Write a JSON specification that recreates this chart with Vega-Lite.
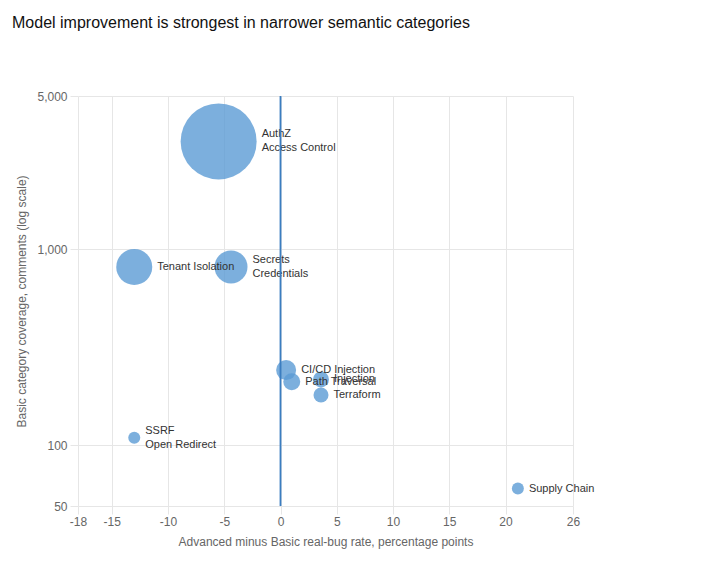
{
  "$schema": "https://vega.github.io/schema/vega-lite/v6.json",
  "width": 495,
  "height": 410,
  "autosize": {"type": "none"},
  "padding": {"left": 78, "top": 96, "right": 128, "bottom": 67},
  "background": "white",
  "title": {
    "text": "Model improvement is strongest in narrower semantic categories",
    "anchor": "start",
    "frame": "group",
    "font": "Liberation Sans",
    "fontSize": 16,
    "fontWeight": "normal",
    "color": "#111111",
    "baseline": "alphabetic",
    "offset": 0,
    "dx": -66,
    "dy": -46
  },
  "config": {
    "view": {"stroke": null},
    "axis": {
      "labelFont": "Liberation Sans",
      "labelFontSize": 12,
      "labelColor": "#666666",
      "labelFlush": false,
      "titleFont": "Liberation Sans",
      "titleFontSize": 12,
      "titleFontWeight": "normal",
      "titleColor": "#666666",
      "gridColor": "#e6e6e6",
      "tickColor": "#e6e6e6",
      "tickSize": 8,
      "domain": false
    }
  },
  "datasets": {
    "categories": [
      {"category": "AuthZ\nAccess Control", "delta": -5.5, "basic": 3100, "total": 5776},
      {"category": "Tenant Isolation", "delta": -13.0, "basic": 810, "total": 1296},
      {"category": "Secrets\nCredentials", "delta": -4.4, "basic": 810, "total": 1089},
      {"category": "CI/CD Injection", "delta": 0.5, "basic": 241, "total": 400},
      {"category": "Path Traversal", "delta": 1.0, "basic": 210, "total": 289},
      {"category": "Injection", "delta": 3.6, "basic": 216, "total": 256},
      {"category": "Terraform", "delta": 3.6, "basic": 180, "total": 225},
      {"category": "SSRF\nOpen Redirect", "delta": -13.0, "basic": 109, "total": 144},
      {"category": "Supply Chain", "delta": 21.1, "basic": 61, "total": 144}
    ],
    "reference": [{"zero": 0}]
  },
  "layer": [
    {
      "data": {"name": "categories"},
      "mark": {"type": "circle", "color": "#5b9bd5", "opacity": 0.8},
      "encoding": {
        "x": {
          "field": "delta",
          "type": "quantitative",
          "scale": {"domain": [-18, 26], "nice": false, "zero": false},
          "axis": {
            "values": [-18, -15, -10, -5, 0, 5, 10, 15, 20, 26],
            "labelExpr": "'' + datum.value",
            "title": "Advanced minus Basic real-bug rate, percentage points",
            "labelPadding": 2,
            "titlePadding": 9
          }
        },
        "y": {
          "field": "basic",
          "type": "quantitative",
          "scale": {"type": "log", "domain": [50, 100, 1000, 5000], "range": [410, 349, 153, 0], "nice": false},
          "axis": {
            "values": [50, 100, 1000, 5000],
            "format": ",",
            "title": "Basic category coverage, comments (log scale)",
            "labelPadding": 3,
            "titlePadding": 8
          }
        },
        "size": {
          "field": "total",
          "type": "quantitative",
          "scale": {"domain": [0, 5776], "range": [0, 5776]},
          "legend": null
        }
      }
    },
    {
      "data": {"name": "categories"},
      "mark": {
        "type": "text",
        "align": "left",
        "baseline": "middle",
        "lineBreak": "\n",
        "lineHeight": 14,
        "font": "Liberation Sans",
        "fontSize": 11,
        "color": "#333333",
        "dx": {"expr": "sqrt(scale('size', datum.total)) / 2 + 5"},
        "dy": {"expr": "indexof(datum.category, '\\n') >= 0 ? -7 : 0"}
      },
      "encoding": {
        "x": {"field": "delta", "type": "quantitative"},
        "y": {"field": "basic", "type": "quantitative"},
        "text": {"field": "category"}
      }
    },
    {
      "data": {"name": "reference"},
      "mark": {"type": "rule", "color": "#3b7dc0", "strokeWidth": 1.8},
      "encoding": {
        "x": {"field": "zero", "type": "quantitative"}
      }
    }
  ]
}
